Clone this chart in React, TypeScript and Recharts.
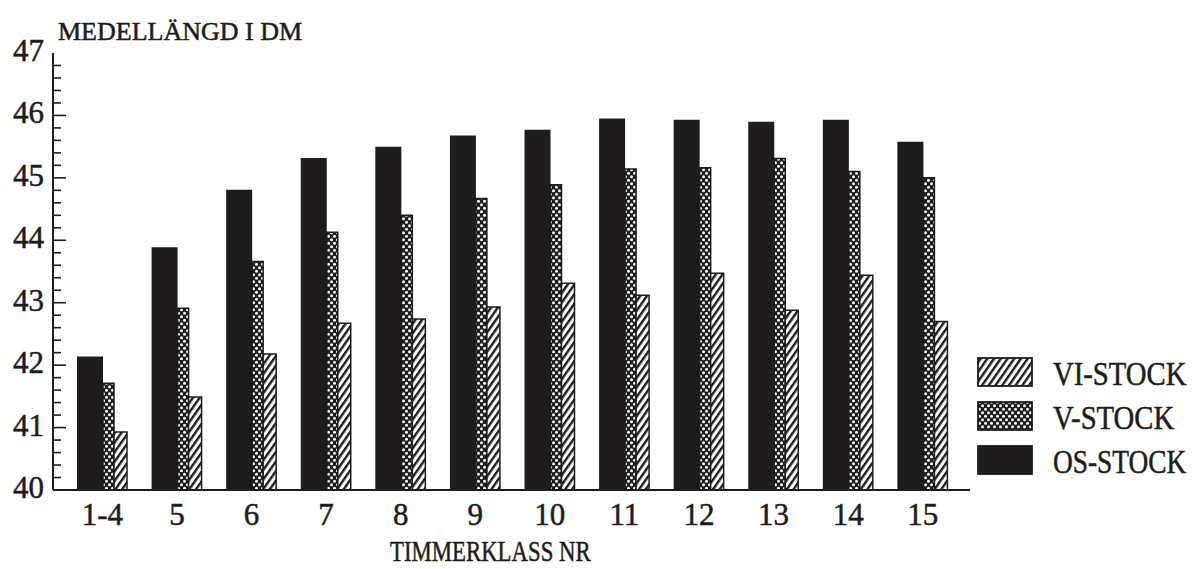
import React from 'react';
import { BarChart, Bar, XAxis, YAxis, Legend, Customized } from 'recharts';

const categories = ['1-4', '5', '6', '7', '8', '9', '10', '11', '12', '13', '14', '15'];
const osStock = [42.14, 43.89, 44.81, 45.32, 45.5, 45.68, 45.77, 45.95, 45.93, 45.9, 45.93, 45.58];
const vStock = [41.71, 42.91, 43.66, 44.13, 44.4, 44.67, 44.89, 45.14, 45.16, 45.31, 45.1, 45.0];
const viStock = [40.93, 41.49, 42.18, 42.67, 42.74, 42.93, 43.31, 43.12, 43.47, 42.88, 43.44, 42.7];

const yTicks = [
  40, 40.2, 40.4, 40.6, 40.8, 41, 41.2, 41.4, 41.6, 41.8, 42, 42.2, 42.4, 42.6, 42.8,
  43, 43.2, 43.4, 43.6, 43.8, 44, 44.2, 44.4, 44.6, 44.8, 45, 45.2, 45.4, 45.6, 45.8,
  46, 46.2, 46.4, 46.6, 46.8, 47,
];

const yTitle = 'MEDELLÄNGD I DM';
const xTitle = 'TIMMERKLASS NR';

const seriesNames = { os: 'OS-STOCK', v: 'V-STOCK', vi: 'VI-STOCK' };

const data = categories.map((c, i) => ({
  klass: c,
  os: osStock[i],
  v: vStock[i],
  vi: viStock[i],
}));

const FONT = '"Liberation Serif", "DejaVu Serif", serif';
const INK = '#1e1c1c';

const YTick = (props: any) => {
  const { x, y, payload } = props;
  const v = payload.value as number;
  const major = Math.abs(v - Math.round(v)) < 1e-6;
  const isTop = Math.abs(v - 47) < 1e-6;
  return (
    <g>
      {!isTop && (
        <line x1={x} x2={x + (major ? 13 : 8)} y1={y} y2={y} stroke={INK} strokeWidth={1.6} />
      )}
      {major && (
        <text
          x={x - 9}
          y={y + 8}
          textAnchor="end"
          fontFamily={FONT}
          fontSize={31}
          fill={INK}
          stroke={INK}
          strokeWidth={0.5}
        >
          {Math.round(v)}
        </text>
      )}
    </g>
  );
};

const XTick = (props: any) => {
  const { x, y, payload } = props;
  return (
    <text
      x={x}
      y={y + 35}
      textAnchor="middle"
      fontFamily={FONT}
      fontSize={31}
      fill={INK}
      stroke={INK}
      strokeWidth={0.5}
    >
      {payload.value}
    </text>
  );
};

const Titles = () => (
  <g>
    <text
      transform="translate(58,40) scale(1.04,1)"
      fontFamily={FONT}
      fontSize={25}
      fill={INK}
      stroke={INK}
      strokeWidth={0.5}
    >
      {yTitle}
    </text>
    <text
      transform="translate(390,561) scale(0.76,1)"
      fontFamily={FONT}
      fontSize={30}
      fill={INK}
      stroke={INK}
      strokeWidth={0.5}
    >
      {xTitle}
    </text>
  </g>
);

const legendItems = [
  { key: 'vi', fill: 'url(#hatchVI)', sx: 0.87 },
  { key: 'v', fill: 'url(#dotsV)', sx: 0.87 },
  { key: 'os', fill: INK, sx: 0.83 },
];

const LegendContent = () => (
  <svg width={214} height={125} style={{ display: 'block', overflow: 'visible' }}>
    {legendItems.map((it, i) => {
      const top = 3 + i * 44;
      return (
        <g key={it.key}>
          <rect x={3} y={top} width={54} height={28} fill={it.fill} stroke={INK} strokeWidth={1.8} />
          <text
            transform={`translate(78,${top + 27}) scale(${it.sx},1)`}
            fontFamily={FONT}
            fontSize={33}
            fill={INK}
            stroke={INK}
            strokeWidth={0.5}
          >
            {(seriesNames as any)[it.key]}
          </text>
        </g>
      );
    })}
  </svg>
);

export default function App() {
  return (
    <div style={{ position: 'absolute', left: 0, top: 0, width: 1193, height: 569, background: '#fff' }}>
      <svg width={0} height={0} style={{ position: 'absolute' }}>
        <defs>
          <pattern
            id="hatchVI"
            patternUnits="userSpaceOnUse"
            width={5.5}
            height={6}
            patternTransform="rotate(35)"
          >
            <rect x={0} y={0} width={5.5} height={6} fill="#fff" />
            <rect x={0} y={0} width={2.4} height={6} fill={INK} />
          </pattern>
          <pattern id="dotsV" patternUnits="userSpaceOnUse" width={6} height={7}>
            <rect x={0} y={0} width={6} height={7} fill={INK} />
            <circle cx={1.5} cy={1.75} r={1.5} fill="#fff" />
            <circle cx={4.5} cy={5.25} r={1.5} fill="#fff" />
          </pattern>
        </defs>
      </svg>
      <BarChart
        width={1193}
        height={569}
        data={data}
        margin={{ top: 53, right: 223, bottom: 0, left: 0 }}
        barGap={0}
      >
        <XAxis
          dataKey="klass"
          height={79}
          interval={0}
          tickLine={false}
          tickSize={0}
          tickMargin={0}
          padding={{ left: 12, right: 10 }}
          axisLine={{ stroke: INK, strokeWidth: 2 }}
          tick={<XTick />}
        />
        <YAxis
          width={53}
          domain={[40, 47]}
          ticks={yTicks}
          interval={0}
          allowDataOverflow
          tickLine={false}
          tickSize={0}
          tickMargin={0}
          axisLine={{ stroke: INK, strokeWidth: 2 }}
          tick={<YTick />}
        />
        <Legend
          layout="vertical"
          align="center"
          verticalAlign="middle"
          content={<LegendContent />}
          wrapperStyle={{ position: 'absolute', left: 975, top: 355, width: 214, height: 125 }}
        />
        <Bar dataKey="os" name={seriesNames.os} barSize={26} fill={INK} isAnimationActive={false} />
        <Bar
          dataKey="v"
          name={seriesNames.v}
          barSize={11}
          fill="url(#dotsV)"
          stroke={INK}
          strokeWidth={1.5}
          isAnimationActive={false}
        />
        <Bar
          dataKey="vi"
          name={seriesNames.vi}
          barSize={13}
          fill="url(#hatchVI)"
          stroke={INK}
          strokeWidth={1.5}
          isAnimationActive={false}
        />
        <Customized component={Titles} />
      </BarChart>
    </div>
  );
}
